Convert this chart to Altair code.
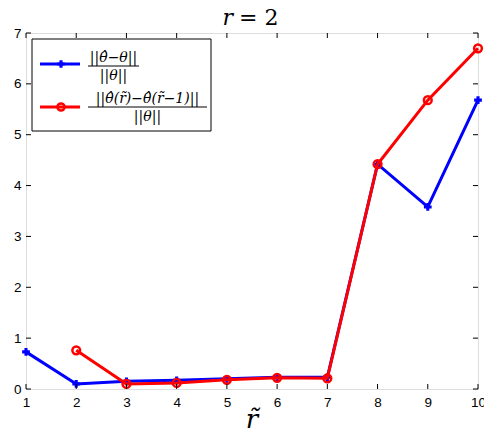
import altair as alt
import pandas as pd

# ---- data ----
x_blue = [1, 2, 3, 4, 5, 6, 7, 8, 9, 10]
y_blue = [0.73, 0.10, 0.15, 0.17, 0.20, 0.23, 0.23, 4.42, 3.58, 5.68]
x_red = [2, 3, 4, 5, 6, 7, 8, 9, 10]
y_red = [0.76, 0.10, 0.12, 0.18, 0.22, 0.21, 4.42, 5.68, 6.70]
x_ticks = [1, 2, 3, 4, 5, 6, 7, 8, 9, 10]
y_ticks = [0, 1, 2, 3, 4, 5, 6, 7]
num_labels = ["||θ\u0302−θ||", "||θ\u0302(r\u0303)−θ\u0302(r\u0303−1)||"]
den_label = "||θ||"
title_var = "r"
title_rest = "= 2"
x_title = "r\u0303"

W, H = 452, 356
BLUE, RED = "#0000ff", "#ff0000"
SERIF = "DejaVu Serif"

blue_df = pd.DataFrame({"x": x_blue, "y": y_blue})
red_df = pd.DataFrame({"x": x_red, "y": y_red})
xt_df = pd.DataFrame({"x": x_ticks})
yt_df = pd.DataFrame({"y": y_ticks})

xs = alt.Scale(domain=[1, 10], nice=False, zero=False)
ys = alt.Scale(domain=[0, 7], nice=False)

xaxis = alt.Axis(values=x_ticks, format="d", ticks=False, domain=False, grid=False,
                 labelFont="Liberation Sans", labelFontSize=13.5, labelColor="black",
                 labelPadding=6, title=None, labelFlush=False)
yaxis = alt.Axis(values=y_ticks, format="d", ticks=False, domain=False, grid=False,
                 labelFont="Liberation Sans", labelFontSize=13.5, labelColor="black",
                 labelPadding=5, title=None, labelFlush=False)

base_blue = alt.Chart(blue_df).encode(
    x=alt.X("x:Q", scale=xs, axis=xaxis),
    y=alt.Y("y:Q", scale=ys, axis=yaxis),
)
blue_line = base_blue.mark_line(color=BLUE, strokeWidth=3)
blue_pts = base_blue.mark_point(shape="cross", filled=True, color=BLUE, size=60, opacity=1)

base_red = alt.Chart(red_df).encode(x=alt.X("x:Q", scale=xs), y=alt.Y("y:Q", scale=ys))
red_line = base_red.mark_line(color=RED, strokeWidth=3)
red_pts = base_red.mark_point(shape="circle", filled=False, color=RED, size=60,
                              strokeWidth=2.5, opacity=1)

# inward ticks on all four sides
xt_bot = alt.Chart(xt_df).mark_rule(color="black", strokeWidth=1).encode(
    x=alt.X("x:Q", scale=xs), y=alt.value(H), y2=alt.value(H - 5))
xt_top = alt.Chart(xt_df).mark_rule(color="black", strokeWidth=1).encode(
    x=alt.X("x:Q", scale=xs), y=alt.value(0), y2=alt.value(5))
yt_left = alt.Chart(yt_df).mark_rule(color="black", strokeWidth=1).encode(
    y=alt.Y("y:Q", scale=ys), x=alt.value(0), x2=alt.value(5))
yt_right = alt.Chart(yt_df).mark_rule(color="black", strokeWidth=1).encode(
    y=alt.Y("y:Q", scale=ys), x=alt.value(W), x2=alt.value(W - 5))

one = pd.DataFrame({"a": [0]})

# title
t1 = alt.Chart(one).mark_text(text=title_var, font=SERIF, fontStyle="italic",
                              fontSize=22, align="right", baseline="alphabetic").encode(
    x=alt.value(207), y=alt.value(-8))
t2 = alt.Chart(one).mark_text(text=title_rest, font=SERIF,
                              fontSize=22, align="left", baseline="alphabetic").encode(
    x=alt.value(213), y=alt.value(-8))
# x axis title
xt = alt.Chart(one).mark_text(text=x_title, font=SERIF, fontStyle="italic",
                              fontSize=26, align="center", baseline="alphabetic").encode(
    x=alt.value(W / 2), y=alt.value(395))

# legend
box = alt.Chart(one).mark_rect(fill="white", stroke="black", strokeWidth=1).encode(
    x=alt.value(6), x2=alt.value(185), y=alt.value(6), y2=alt.value(98))
leg_blue_line = alt.Chart(one).mark_rule(color=BLUE, strokeWidth=3).encode(
    x=alt.value(14), x2=alt.value(54), y=alt.value(31))
leg_blue_pt = alt.Chart(one).mark_point(shape="cross", filled=True, color=BLUE, size=60,
                                        opacity=1).encode(x=alt.value(35), y=alt.value(31))
leg_red_line = alt.Chart(one).mark_rule(color=RED, strokeWidth=3).encode(
    x=alt.value(14), x2=alt.value(54), y=alt.value(74))
leg_red_pt = alt.Chart(one).mark_point(shape="circle", filled=False, color=RED, size=50,
                                       strokeWidth=2.5, opacity=1).encode(
    x=alt.value(35), y=alt.value(74))

def frac(num, cx, x0, x1, yline):
    n = alt.Chart(one).mark_text(text=num, font=SERIF, fontStyle="italic",
                                 fontSize=14, align="center", baseline="alphabetic").encode(
        x=alt.value(cx), y=alt.value(yline - 4))
    l = alt.Chart(one).mark_rule(color="black", strokeWidth=1).encode(
        x=alt.value(x0), x2=alt.value(x1), y=alt.value(yline))
    d = alt.Chart(one).mark_text(text=den_label, font=SERIF, fontStyle="italic",
                                 fontSize=14, align="center", baseline="alphabetic").encode(
        x=alt.value(cx), y=alt.value(yline + 14))
    return [n, l, d]

f1 = frac(num_labels[0], 87.5, 62, 113, 33)
f2 = frac(num_labels[1], 121.5, 62, 181, 74)

chart = alt.layer(
    blue_line, blue_pts, red_line, red_pts,
    xt_bot, xt_top, yt_left, yt_right,
    t1, t2, xt,
    box, leg_blue_line, leg_blue_pt, leg_red_line, leg_red_pt,
    *f1, *f2,
).properties(
    width=W, height=H,
    autosize=alt.AutoSizeParams(type="none"),
    padding={"left": 18, "top": 25, "right": 6, "bottom": 41},
).configure_view(
    stroke="black", strokeWidth=1,
).configure(background="white")

chart.save("out.html", embed_options={"renderer": "svg", "actions": False})
